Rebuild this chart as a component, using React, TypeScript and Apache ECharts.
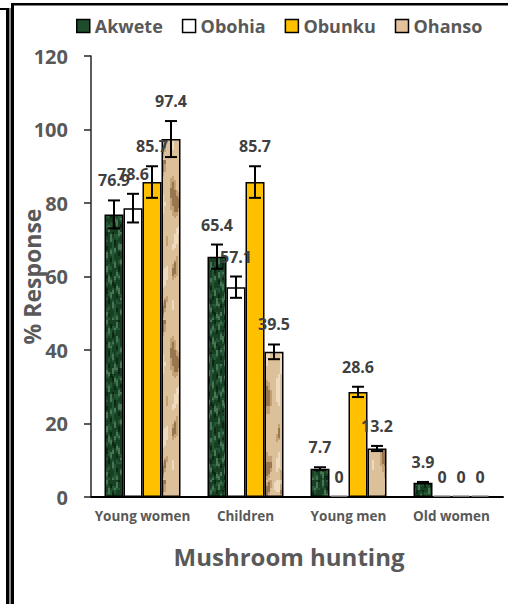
import React, { useEffect, useRef } from "react";
import * as echarts from "echarts";

const categories = ["Young women", "Children", "Young men", "Old women"];
const seriesNames = ["Akwete", "Obohia", "Obunku", "Ohanso"];
const akwete = [76.9, 65.4, 7.7, 3.9];
const obohia = [78.6, 57.1, 0, 0];
const obunku = [85.7, 85.7, 28.6, 0];
const ohanso = [97.4, 39.5, 13.2, 0];
const akweteErr = [3.8, 3.3, 0.4, 0.2];
const obohiaErr = [3.9, 2.9, 0, 0];
const obunkuErr = [4.3, 4.3, 1.4, 0];
const ohansoErr = [4.9, 2.0, 0.7, 0];
const yTicks = [0, 20, 40, 60, 80, 100, 120];

const FONT = "'Open Sans', Lato, sans-serif";
const TEXT_GRAY = "#595959";

function makeTexture(kind: "green" | "tan") {
  const c = document.createElement("canvas");
  c.width = 40;
  c.height = 160;
  const ctx = c.getContext("2d")!;
  if (kind === "green") {
    ctx.fillStyle = "#173f23";
    ctx.fillRect(0, 0, 40, 160);
    for (let y = 0; y < 160; y += 2) {
      for (let x = 0; x < 40; x += 2) {
        const v =
          Math.sin(x * 0.55 + y * 0.17) * Math.cos(y * 0.29 - x * 0.23) +
          0.5 * Math.sin(x * 1.3 - y * 0.41);
        if (v > 0.6) {
          ctx.fillStyle = "rgba(120,175,130,0.5)";
          ctx.fillRect(x, y, 2, 2);
        } else if (v < -0.8) {
          ctx.fillStyle = "rgba(5,25,12,0.6)";
          ctx.fillRect(x, y, 2, 2);
        } else if (v > 0.15) {
          ctx.fillStyle = "rgba(55,115,70,0.45)";
          ctx.fillRect(x, y, 2, 2);
        }
      }
    }
  } else {
    ctx.fillStyle = "#dcc09a";
    ctx.fillRect(0, 0, 40, 160);
    for (let y = 0; y < 160; y += 2) {
      for (let x = 0; x < 40; x += 2) {
        const v =
          Math.sin(y * 0.05 + x * 0.08 + Math.sin(x * 0.2 + y * 0.04) * 2.0) +
          0.45 * Math.cos(x * 0.25 - y * 0.09);
        if (v > 1.2) {
          ctx.fillStyle = "rgba(115,78,40,0.65)";
          ctx.fillRect(x, y, 2, 2);
        } else if (v > 0.85) {
          ctx.fillStyle = "rgba(170,128,82,0.5)";
          ctx.fillRect(x, y, 2, 2);
        } else if (v < -0.9) {
          ctx.fillStyle = "rgba(244,230,208,0.7)";
          ctx.fillRect(x, y, 2, 2);
        }
      }
    }
  }
  return c;
}

export default function App() {
  const ref = useRef<HTMLDivElement>(null);

  useEffect(() => {
    if (!ref.current) return;
    const chart = echarts.init(ref.current, null, { renderer: "svg" });

    const greenTex = makeTexture("green");
    const tanTex = makeTexture("tan");

    const values = [akwete, obohia, obunku, ohanso];
    const errs = [akweteErr, obohiaErr, obunkuErr, ohansoErr];
    const fills: any[] = [
      { image: greenTex, repeat: "repeat", imageWidth: 40, imageHeight: 160 },
      "#ffffff",
      "#ffc000",
      { image: tanTex, repeat: "repeat", imageWidth: 40, imageHeight: 160 },
    ];
    const legendColors = ["#1e4d2b", "#ffffff", "#ffc000", "#e3c29c"];
    const barW = 19;
    const offsets = [-1.5 * barW, -0.5 * barW, 0.5 * barW, 1.5 * barW];

    const barSeries = seriesNames.map((name, i) => ({
      name,
      type: "bar",
      data: values[i],
      barWidth: barW,
      barGap: "0%",
      itemStyle: {
        color: fills[i],
        borderColor: "#000",
        borderWidth: 1.5,
      },
      z: 2,
    }));

    const errSeries = seriesNames.map((name, i) => ({
      name: name + "_err",
      type: "custom",
      z: 5,
      data: categories.map((_, ci) => [ci, values[i][ci], errs[i][ci]]),
      renderItem: (params: any, api: any) => {
        const ci = api.value(0);
        const v = api.value(1);
        const e = api.value(2);
        const base = api.coord([ci, v]);
        const x = base[0] + offsets[i];
        const top = api.coord([ci, v + e])[1];
        const bot = api.coord([ci, v - e])[1];
        const children: any[] = [];
        const ls = { stroke: "#000", lineWidth: 2 };
        if (v === 0) {
          children.push({
            type: "line",
            shape: { x1: x - barW / 2 + 1, y1: base[1] - 1, x2: x + barW / 2 - 1, y2: base[1] - 1 },
            style: { stroke: "#9a9a9a", lineWidth: 1.5 },
          });
        }
        if (e > 0) {
          children.push({ type: "line", shape: { x1: x, y1: top, x2: x, y2: bot }, style: ls });
          children.push({ type: "line", shape: { x1: x - 6, y1: top, x2: x + 6, y2: top }, style: ls });
          children.push({ type: "line", shape: { x1: x - 6, y1: bot, x2: x + 6, y2: bot }, style: ls });
        }
        children.push({
          type: "text",
          x,
          y: top - 20,
          style: {
            text: String(v),
            align: "center",
            verticalAlign: "middle",
            fontSize: 16,
            fontWeight: "bold",
            fontFamily: FONT,
            fill: "#404040",
          },
        });
        return { type: "group", children };
      },
    }));

    chart.setOption({
      animation: false,
      backgroundColor: "#ffffff",
      legend: {
        left: 71,
        top: 12,
        itemWidth: 13,
        itemHeight: 13,
        itemGap: 19,
        icon: "rect",
        textStyle: { fontSize: 18, fontWeight: "bold", color: TEXT_GRAY, fontFamily: FONT },
        data: seriesNames.map((n, i) => ({
          name: n,
          itemStyle: { color: legendColors[i], borderColor: "#000", borderWidth: 1.5 },
        })),
      },
      grid: { left: 91, right: 5, top: 56, bottom: 107, containLabel: false, outerBoundsMode: "none" },
      xAxis: {
        type: "category",
        data: categories,
        name: "Mushroom hunting",
        nameLocation: "middle",
        nameGap: 47,
        nameMoveOverlap: false,
        nameTextStyle: {
          fontSize: 24,
          fontWeight: "bold",
          color: TEXT_GRAY,
          fontFamily: FONT,
          padding: [0, 16, 0, 0],
        },
        axisLine: { lineStyle: { color: "#000", width: 2 } },
        axisTick: { show: false },
        axisLabel: { fontSize: 13.5, fontWeight: "bold", color: TEXT_GRAY, fontFamily: FONT, margin: 12, interval: 0 },
      },
      yAxis: {
        type: "value",
        min: yTicks[0],
        max: yTicks[yTicks.length - 1],
        interval: yTicks[1] - yTicks[0],
        name: "% Response",
        nameLocation: "middle",
        nameGap: 48,
        nameMoveOverlap: false,
        nameTextStyle: { fontSize: 23, fontWeight: "bold", color: TEXT_GRAY, fontFamily: FONT },
        axisLine: { show: true, lineStyle: { color: "#262626", width: 1.5 } },
        axisTick: { show: true, inside: false, length: 7, lineStyle: { color: "#262626", width: 1.5 } },
        splitLine: { show: false },
        axisLabel: { fontSize: 20, fontWeight: "bold", color: TEXT_GRAY, fontFamily: FONT, margin: 23 },
      },
      graphic: [
        { type: "rect", shape: { x: 6, y: 8, width: 3, height: 600 }, style: { fill: "#000" } },
        { type: "rect", shape: { x: 9, y: 8, width: 2, height: 600 }, style: { fill: "#8a8a8a" } },
        { type: "rect", shape: { x: 11, y: 3, width: 3, height: 604 }, style: { fill: "#000" } },
        { type: "rect", shape: { x: 0, y: 8, width: 9, height: 2 }, style: { fill: "#000" } },
        { type: "rect", shape: { x: 11, y: 3, width: 497, height: 2.5 }, style: { fill: "#000" } },
      ],
      series: [...barSeries, ...errSeries],
    });

    return () => chart.dispose();
  }, []);

  return (
    <div
      ref={ref}
      style={{ position: "absolute", left: 0, top: 0, width: 508, height: 604 }}
    />
  );
}
